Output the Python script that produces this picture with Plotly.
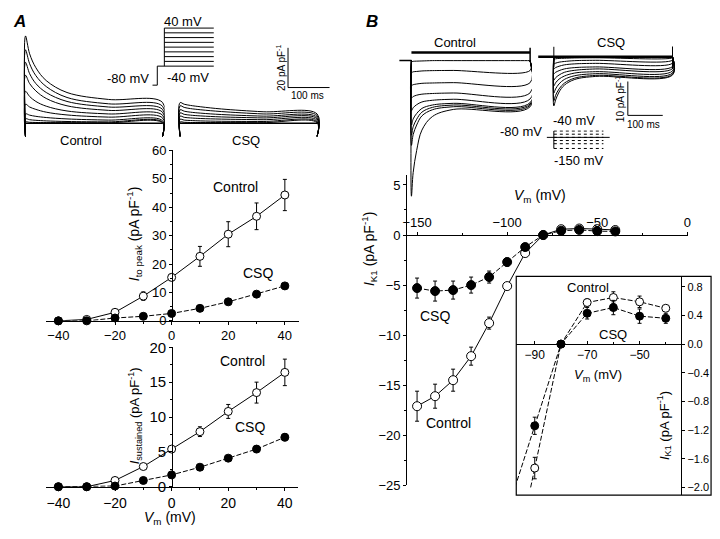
import plotly.graph_objects as go

W, H = 720, 539
FONT = "Liberation Sans, Arial, Helvetica, sans-serif"

# ---------------- DATA ----------------
# Panel A I-V: Ito peak
vA = [-40, -30, -20, -10, 0, 10, 20, 30, 40]
ito_ctrl = [0.0, 0.5, 3.0, 8.7, 15.3, 22.7, 30.5, 36.8, 44.3]
ito_ctrl_err = [0, 0, 0.5, 1.5, 1.2, 3.5, 4.4, 4.7, 5.5]
ito_csq = [0.0, 0.0, 1.0, 1.6, 2.6, 4.4, 6.7, 9.4, 12.3]
ito_csq_err = [0, 0, 0.2, 0.3, 0.3, 0.4, 0.5, 0.6, 0.7]
# Panel A I-V: sustained
isus_ctrl = [0.0, 0.0, 0.9, 2.9, 5.4, 7.9, 10.8, 13.5, 16.4]
isus_ctrl_err = [0, 0, 0.2, 0.3, 0.4, 0.7, 1.0, 1.5, 1.9]
isus_csq = [0.0, 0.0, 0.1, 0.9, 1.7, 2.8, 4.1, 5.4, 7.1]
isus_csq_err = [0, 0, 0.1, 0.1, 0.2, 0.2, 0.2, 0.3, 0.5]

# Panel B I-V: IK1
vB = [-150, -140, -130, -120, -110, -100, -90, -80, -70, -60, -50, -40]
ik1_ctrl = [-17.1, -16.1, -14.5, -12.1, -8.8, -5.1, -1.8, 0.0, 0.58, 0.65, 0.59, 0.50]
ik1_ctrl_err = [1.5, 1.2, 1.1, 0.9, 0.6, 0.3, 0.15, 0, 0.05, 0.08, 0.08, 0.03]
ik1_csq = [-5.3, -5.6, -5.5, -5.0, -4.2, -2.7, -1.2, 0.0, 0.43, 0.51, 0.39, 0.36]
ik1_csq_err = [1.0, 1.0, 0.9, 0.8, 0.6, 0.4, 0.12, 0, 0.08, 0.1, 0.1, 0.07]
# inset (expanded view)
vInset = [-90, -80, -70, -60, -50, -40]
ins_ctrl = [-1.73, 0.0, 0.58, 0.65, 0.59, 0.50]
ins_ctrl_err = [0.15, 0, 0.05, 0.08, 0.08, 0.03]
ins_csq = [-1.14, 0.0, 0.43, 0.51, 0.39, 0.36]
ins_csq_err = [0.12, 0, 0.08, 0.1, 0.1, 0.07]

# Current traces, panel A (pA/pF) sampled at times (ms)
tA = [0, 10, 25, 50, 100, 200, 330]
trA_ctrl = [
    [44.0, 35.0, 28.0, 21.5, 15.5, 12.0, 10.5],
    [37.0, 30.0, 24.0, 18.5, 13.0, 9.8, 8.6],
    [30.7, 25.0, 20.0, 15.5, 11.0, 8.2, 7.0],
    [24.2, 20.0, 16.3, 12.5, 8.8, 6.5, 5.6],
    [16.1, 13.5, 11.0, 8.6, 6.2, 4.7, 4.1],
    [9.6, 8.2, 7.0, 5.6, 4.2, 3.1, 2.7],
    [4.7, 4.1, 3.5, 2.9, 2.2, 1.6, 1.3],
    [2.2, 1.8, 1.5, 1.2, 0.9, 0.7, 0.6],
    [0.6, 0.5, 0.4, 0.35, 0.3, 0.25, 0.2],
]
trA_csq = [
    [10.4, 9.6, 9.0, 8.3, 7.2, 5.8, 4.7],
    [8.8, 8.0, 7.4, 6.8, 5.9, 4.7, 3.9],
    [6.8, 6.1, 5.6, 5.1, 4.4, 3.6, 3.0],
    [5.2, 4.5, 4.1, 3.7, 3.2, 2.7, 2.3],
    [3.6, 3.0, 2.7, 2.4, 2.1, 1.8, 1.5],
    [2.0, 1.6, 1.4, 1.2, 1.0, 0.9, 0.8],
    [0.6, 0.5, 0.4, 0.4, 0.35, 0.3, 0.3],
]
capA = -6.6  # capacitive/tail level (pA/pF)

# Current traces, panel B (pA/pF)
tB = [0, 5, 15, 30, 60, 120, 340]
trB_ctrl = [
    [-0.3, -0.2, -0.15, -0.1, 0.0, 0.0, 0.0],
    [-3.5, -3.3, -3.2, -3.05, -2.95, -2.9, -2.9],
    [-7.3, -7.1, -6.9, -6.7, -6.6, -6.5, -6.5],
    [-11.0, -10.6, -10.2, -9.9, -9.7, -9.55, -9.5],
    [-14.8, -13.9, -13.0, -12.2, -11.7, -11.4, -11.3],
    [-19.0, -17.2, -15.6, -14.1, -13.1, -12.6, -12.4],
    [-22.0, -19.5, -17.3, -15.2, -13.8, -13.1, -12.8],
    [-25.0, -21.8, -19.0, -16.3, -14.5, -13.6, -13.2],
    [-40.0, -33.0, -26.5, -20.5, -16.5, -14.4, -13.6],
]
trB_ctrl_top = 2.4
trB_csq = [
    [-0.7, -0.6, -0.5, -0.45, -0.35, -0.3, -0.3],
    [-2.1, -1.9, -1.6, -1.4, -1.15, -1.05, -1.0],
    [-3.5, -3.2, -2.8, -2.4, -2.1, -1.95, -1.9],
    [-5.0, -4.6, -4.1, -3.6, -3.2, -3.0, -2.9],
    [-6.9, -6.2, -5.4, -4.6, -4.0, -3.6, -3.5],
    [-8.6, -7.7, -6.6, -5.7, -4.8, -4.4, -4.2],
    [-10.7, -9.5, -8.0, -6.7, -5.6, -5.0, -4.8],
    [-13.0, -11.4, -9.5, -7.8, -6.3, -5.5, -5.2],
    [-14.5, -12.8, -10.4, -8.4, -6.7, -5.8, -5.4],
]

# Voltage protocols (mV)
protA_hold = -80
protA_levels = [-40, -30, -20, -10, 0, 10, 20, 30, 40]
protB_hold = -80
protB_levels = [-40, -60, -80, -100, -120, -150]

# ---------------- helpers ----------------
def xdom(rng, v1, p1, v2, p2):
    s = (p2 - p1) / (v2 - v1)
    return [(p1 + (rng[0] - v1) * s) / W, (p1 + (rng[1] - v1) * s) / W]

def ydom(rng, v1, p1, v2, p2):
    s = (p2 - p1) / (v2 - v1)
    return [1 - (p1 + (rng[0] - v1) * s) / H, 1 - (p1 + (rng[1] - v1) * s) / H]

def px(p):
    return p / W

def py(p):
    return 1 - p / H

fig = go.Figure()

def add_line(x, y, xa, ya, width=1, dash="solid", shape="linear"):
    fig.add_trace(go.Scatter(x=x, y=y, xaxis=xa, yaxis=ya, mode="lines",
                             line=dict(color="black", width=width, dash=dash, shape=shape),
                             hoverinfo="skip", showlegend=False, cliponaxis=False))

def add_series(x, y, err, xa, ya, filled, size, dash="solid"):
    fig.add_trace(go.Scatter(
        x=x, y=y, xaxis=xa, yaxis=ya, mode="lines+markers",
        line=dict(color="black", width=1, dash=dash),
        marker=dict(symbol="circle", size=size, color="black" if filled else "white",
                    line=dict(color="black", width=1)),
        error_y=dict(type="data", array=err, color="black", thickness=1, width=2),
        showlegend=False, cliponaxis=False))

# ---------------- Panel A traces ----------------
for tr in trA_ctrl:
    add_line([tA[0]] + tA + [tA[-1]], [capA] + tr + [capA], "x6", "y6", shape="spline")
add_line([tA[0], tA[-1]], [0, 0], "x6", "y6", width=1.5)
for tr in trA_csq:
    add_line([tA[0]] + tA + [tA[-1]], [capA] + tr + [capA], "x7", "y6", shape="spline")
add_line([tA[0], tA[-1]], [0, 0], "x7", "y6", width=1.5)
# scale bar A (20 pA/pF, 100 ms)
add_line([260, 260, 360], [38, 18, 18], "x7", "y6")

# protocol A
add_line([-12, 0, 0, 136], [protA_hold, protA_hold, protA_levels[0], protA_levels[0]], "x8", "y8")
add_line([17, 17], [protA_levels[0], protA_levels[-1]], "x8", "y8")
for lv in protA_levels[1:]:
    add_line([17, 136], [lv, lv], "x8", "y8")

# ---------------- Panel B traces ----------------
add_line([-35, 0], [0, 0], "x9", "y9", width=1.5)
add_line([0, 340], [trB_ctrl_top, trB_ctrl_top], "x9", "y9", width=2.5)
add_line([340, 340], [3.8, -0.5], "x9", "y9", width=1.5)
for tr in trB_ctrl:
    add_line([0] + tB + [tB[-1]], [0] + tr + [0], "x9", "y9", shape="spline")

add_line([-45, 340], [0, 0], "x10", "y10", width=2.5)
add_line([0, 0], [3.0, -3.0], "x10", "y10")
add_line([340, 340], [3.2, -3.6], "x10", "y10")
for tr in trB_csq:
    add_line([0] + tB + [tB[-1]], [0] + tr + [0], "x10", "y10", shape="spline")
# scale bar B (10 pA/pF, 100 ms)
add_line([212, 212, 312], [-7.3, -17.3, -17.3], "x10", "y10")

# protocol B
add_line([-20, 160], [protB_hold, protB_hold], "x11", "y11")
add_line([0, 0], [protB_levels[0], protB_levels[-1]], "x11", "y11")
for lv in protB_levels:
    add_line([0, 142], [lv, lv], "x11", "y11", dash="dot")

# ---------------- I-V plots ----------------
add_series(vA, ito_ctrl, ito_ctrl_err, "x2", "y2", False, 8)
add_series(vA, ito_csq, ito_csq_err, "x2", "y2", True, 8, dash="5px,2px")
add_series(vA, isus_ctrl, isus_ctrl_err, "x3", "y3", False, 8)
add_series(vA, isus_csq, isus_csq_err, "x3", "y3", True, 8, dash="5px,2px")
add_series(vB, ik1_ctrl, ik1_ctrl_err, "x4", "y4", False, 9)
add_series(vB, ik1_csq, ik1_csq_err, "x4", "y4", True, 9, dash="5px,2px")

# inset: extrapolate first segment of each curve down to -2.0
def extend(v, i):
    slope = (i[1] - i[0]) / (v[1] - v[0])
    return v[1] + (-2.0 - i[1]) / slope
add_line([extend(vInset, ins_ctrl), vInset[0]], [-2.0, ins_ctrl[0]], "x5", "y5", dash="5px,2px")
add_line([extend(vInset, ins_csq), vInset[0]], [-2.0, ins_csq[0]], "x5", "y5", dash="5px,2px")
add_series(vInset, ins_ctrl, ins_ctrl_err, "x5", "y5", False, 8, dash="5px,2px")
add_series(vInset, ins_csq, ins_csq_err, "x5", "y5", True, 8, dash="5px,2px")

# ---------------- axes ----------------
def vis_axis(**kw):
    base = dict(showline=True, linecolor="black", linewidth=1, ticks="outside",
                tickcolor="black", ticklen=3, tickwidth=1, showgrid=False, zeroline=False,
                tickfont=dict(family=FONT, size=13, color="black"), fixedrange=True)
    base.update(kw)
    return base

def hid_axis(**kw):
    base = dict(visible=False, showgrid=False, zeroline=False, fixedrange=True)
    base.update(kw)
    return base

rA2x = [-44.5, 45]
rA2y = [0, 60]
rA3x = [-44.5, 44.5]
rA3y = [0, 20]
rB4x = [-155.5, 0.5]
rB4y = [-25, 6]
r5x = [-97, -34.1]
r5y = [-2.1, 0.95]
MINOR = dict(ticks="outside", ticklen=2, tickcolor="black")

layout = dict(
    width=W, height=H, margin=dict(l=0, r=0, t=0, b=0),
    paper_bgcolor="white", plot_bgcolor="rgba(0,0,0,0)",
    font=dict(family=FONT, color="black"),
    showlegend=False,
    xaxis=hid_axis(domain=[0, 0.01], range=[0, 1]),
    yaxis=hid_axis(domain=[0, 0.01], range=[0, 1]),
    # A: Ito peak
    xaxis2=vis_axis(domain=xdom(rA2x, -40, 54, 40, 283), range=rA2x, anchor="y2",
                    tickvals=[-40, -20, 0, 20, 40], minor=dict(dtick=10, **MINOR)),
    yaxis2=vis_axis(domain=ydom(rA2y, 0, 322, 60, 146), range=rA2y, anchor="free",
                    position=px(169), dtick=10, minor=dict(dtick=5, **MINOR)),
    # A: sustained
    xaxis3=vis_axis(domain=xdom(rA3x, -40, 54, 40, 283), range=rA3x, anchor="y3",
                    tickvals=[-40, -20, 0, 20, 40], tickfont=dict(family=FONT, size=14, color="black"),
                    minor=dict(dtick=10, **MINOR)),
    yaxis3=vis_axis(domain=ydom(rA3y, 0, 493.3, 20, 349.3), range=rA3y, anchor="free",
                    position=px(169), dtick=5, tickfont=dict(family=FONT, size=15, color="black"),
                    minor=dict(dtick=2.5, **MINOR)),
    # B: IK1 main
    xaxis4=vis_axis(domain=xdom(rB4x, -150, 416.7, 0, 690), range=rB4x, anchor="free",
                    position=py(233.3), side="top", tickvals=[-150, -100, -50, 0],
                    minor=dict(dtick=25, **MINOR)),
    yaxis4=vis_axis(domain=ydom(rB4y, 5, 181.7, -25, 491.8), range=rB4y, anchor="x4",
                    tickvals=[5, 0, -5, -10, -15, -20, -25], minor=dict(dtick=2.5, **MINOR)),
    # inset
    xaxis5=vis_axis(domain=xdom(r5x, -90, 535.7, -50, 641.7), range=r5x, anchor="free",
                    position=py(346), tickvals=[-90, -70, -50], ticks="inside",
                    tickfont=dict(family=FONT, size=12, color="black"),
                    minor=dict(dtick=10, ticks="inside", ticklen=2, tickcolor="black")),
    yaxis5=vis_axis(domain=ydom(r5y, 0, 346, -2.0, 494), range=r5y, anchor="x5", side="right",
                    tickvals=[0.8, 0.4, 0.0, -0.4, -0.8, -1.2, -1.6, -2.0], tickformat=".1f",
                    tickfont=dict(family=FONT, size=11, color="black")),
    # traces A
    xaxis6=hid_axis(domain=xdom([-5, 335], 0, 20.7, 100, 62.7), range=[-5, 335], anchor="y6"),
    yaxis6=hid_axis(domain=ydom([-8, 46], 0, 118, 20, 77), range=[-8, 46], anchor="x6"),
    xaxis7=hid_axis(domain=xdom([-5, 365], 0, 177, 100, 219), range=[-5, 365], anchor="y6"),
    xaxis8=hid_axis(domain=xdom([-12, 140], 0, 154, 100, 196), range=[-12, 140], anchor="y8"),
    yaxis8=hid_axis(domain=ydom([-85, 45], -40, 59, 40, 19.7), range=[-85, 45], anchor="x8"),
    # traces B
    xaxis9=hid_axis(domain=xdom([-35, 345], 0, 411, 100, 446.3), range=[-35, 345], anchor="y9"),
    yaxis9=hid_axis(domain=ydom([-41, 5], 0, 53.3, -10, 88.3), range=[-41, 5], anchor="x9"),
    xaxis10=hid_axis(domain=xdom([-45, 350], 0, 555, 100, 590.3), range=[-45, 350], anchor="y10"),
    yaxis10=hid_axis(domain=ydom([-17.5, 3], 0, 49.3, -10, 84.3), range=[-17.5, 3], anchor="x10"),
    xaxis11=hid_axis(domain=xdom([-25, 165], 0, 555, 100, 590.3), range=[-25, 165], anchor="y11"),
    yaxis11=hid_axis(domain=ydom([-155, -35], -40, 126, -150, 144), range=[-155, -35], anchor="x11"),
)

layout["shapes"] = [dict(type="rect", xref="paper", yref="paper",
                         x0=px(517), x1=px(714), y0=py(502), y1=py(276),
                         line=dict(color="black", width=1.2), fillcolor="rgba(0,0,0,0)", layer="below")]

def ann(x, y, text, size=14, angle=0, xanchor="center"):
    return dict(x=px(x), y=py(y), xref="paper", yref="paper", text=text, showarrow=False,
                textangle=angle, xanchor=xanchor, yanchor="middle",
                font=dict(family=FONT, size=size, color="black"))

IK1 = "<i>I</i><sub>K1</sub> (pA pF<sup>-1</sup>)"
VM = "<i>V</i><sub>m</sub> (mV)"
layout["annotations"] = [
    ann(15, 13, "<b><i>A</i></b>", 17),
    ann(371, 13, "<b><i>B</i></b>", 17),
    # panel A traces
    ann(77, 136, "Control", 13),
    ann(244, 136, "CSQ", 13),
    ann(180, 13, "40 mV", 13),
    ann(148, 72, "-80 mV", 13, xanchor="right"),
    ann(185, 71, "-40 mV", 13),
    ann(279, 61, "20 pA pF<sup>-1</sup>", 10, angle=-90),
    ann(306, 89, "100 ms", 10),
    # panel A Ito peak
    ann(233, 184, "Control", 14),
    ann(256, 273, "CSQ", 14),
    ann(130, 232, "<i>I</i><sub>to peak</sub> (pA pF<sup>-1</sup>)", 14, angle=-90),
    # panel A sustained
    ann(240, 363, "Control", 14),
    ann(248, 432, "CSQ", 14),
    ann(131, 420, "<i>I</i><sub>sustained</sub> (pA pF<sup>-1</sup>)", 13, angle=-90),
    ann(167, 526, VM, 14),
    # panel B traces
    ann(455, 35, "Control", 13),
    ann(613, 35, "CSQ", 13),
    ann(545, 127, "-80 mV", 13, xanchor="right"),
    ann(575, 115, "-40 mV", 13),
    ann(580, 156, "-150 mV", 13),
    ann(622, 93, "10 pA pF<sup>-1</sup>", 10, angle=-90),
    ann(646, 119, "100 ms", 10),
    # panel B main
    ann(541, 193, VM, 14),
    ann(368, 248, IK1, 14, angle=-90),
    ann(435, 317, "CSQ", 14),
    ann(448, 427, "Control", 14),
    # inset
    ann(590, 288, "Control", 13),
    ann(615, 336, "CSQ", 13),
    ann(600, 378, VM, 13),
    ann(667, 430, IK1, 13, angle=-90),
]

fig.update_layout(**layout)

# place the graph at the very top-left of the page (no default body margin)
POST = ("document.documentElement.style.margin='0';document.body.style.margin='0';"
        "document.body.style.overflow='hidden';"
        "var gd=document.getElementById('{plot_id}');gd.style.position='absolute';"
        "gd.style.left='0px';gd.style.top='0px';")
fig.write_html("out.html", post_script=POST, config={"displayModeBar": False})
